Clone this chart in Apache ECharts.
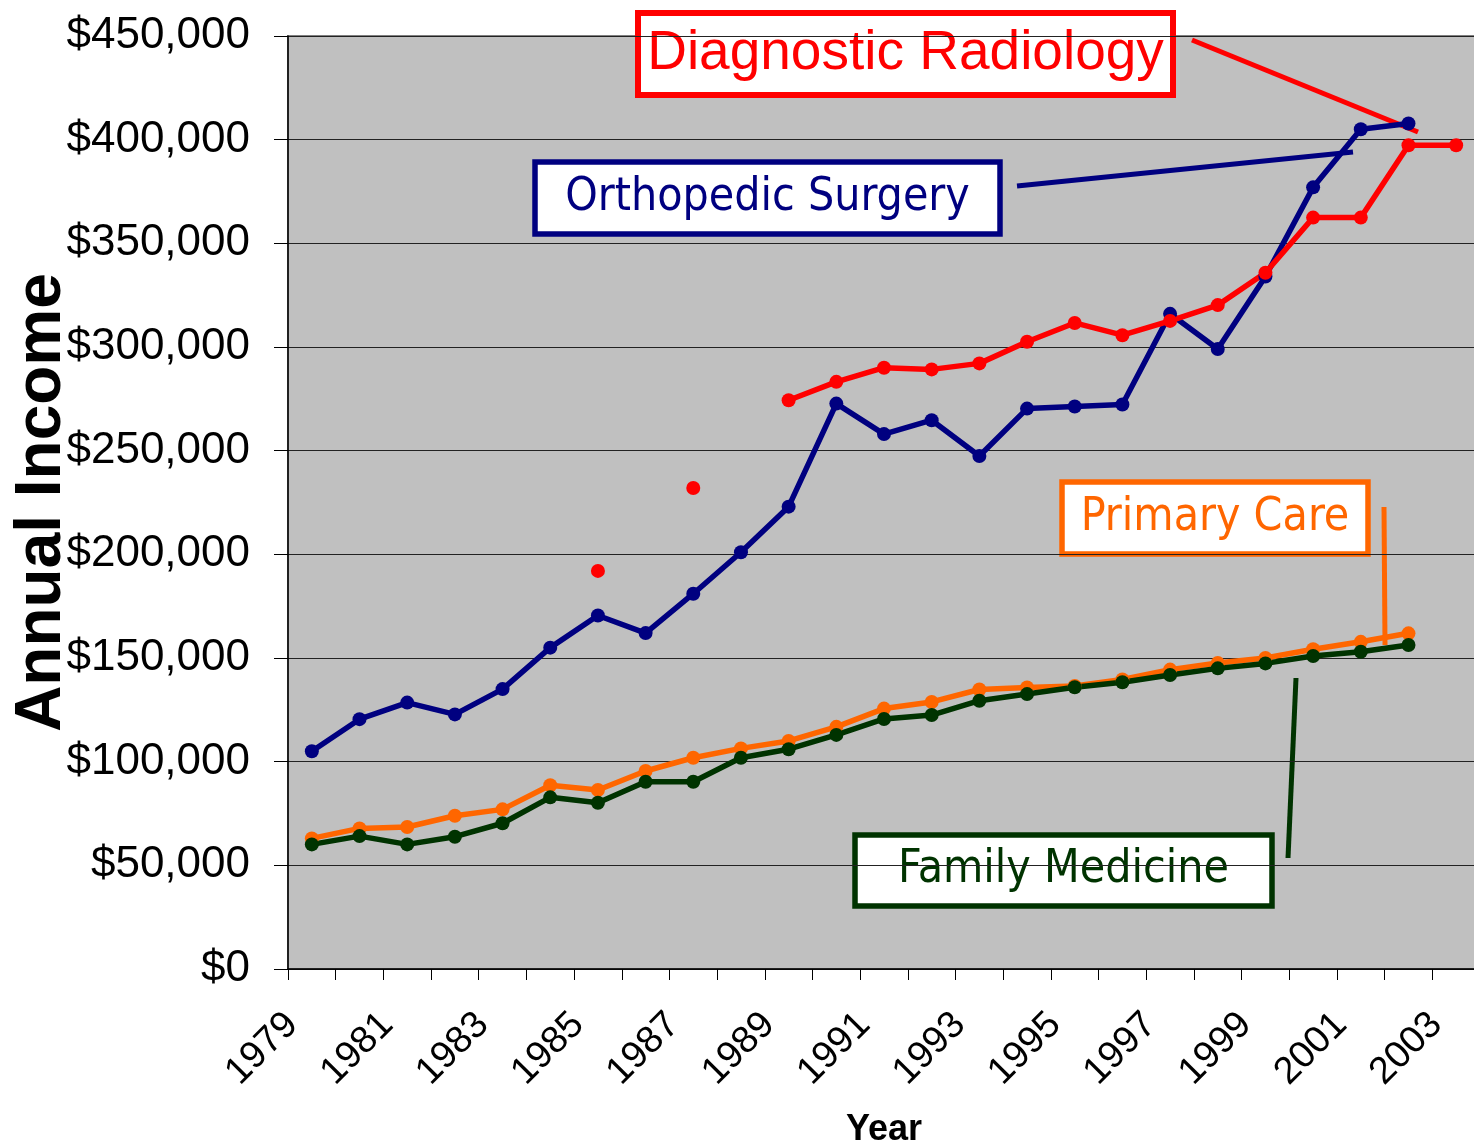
<!DOCTYPE html>
<html>
<head>
<meta charset="utf-8">
<script src="https://cdn.jsdelivr.net/npm/echarts@6/dist/echarts.min.js"></script>
<style>
  html, body { margin: 0; padding: 0; background: #fff; }
  #chart { width: 1474px; height: 1144px; }
</style>
</head>
<body>
<div id="chart"></div>
<script>
// years on the x axis
const years = ['1979', '1980', '1981', '1982', '1983', '1984', '1985', '1986', '1987', '1988',
    '1989', '1990', '1991', '1992', '1993', '1994', '1995', '1996', '1997', '1998',
    '1999', '2000', '2001', '2002', '2003'];

// annual income per specialty
const primaryCare = [63000, 67800, 68500, 73900, 77000, 88600, 86300, 95500, 101900, 106400,
    110000, 116800, 125600, 128800, 134800, 135800, 136500, 139600, 144400, 147600,
    150000, 154200, 157800, 161900, null];
const familyMedicine = [60100, 64100, 60100, 63800, 70300, 82800, 80200, 90300, 90300, 101900,
    106000, 112900, 120600, 122500, 129400, 132600, 135900, 138300, 141800, 145000,
    147400, 151000, 153000, 156300, null];
const orthopedicSurgery = [105000, 120500, 128500, 122800, 135000, 155000, 170500, 162000, 181000, 201000,
    223000, 272700, 258000, 264700, 247400, 270300, 271300, 272300, 316000, 299000,
    334000, 377000, 405000, 407800, null];
const diagnosticRadiology = [null, null, null, null, null, null, 192000, null, 232000, null,
    274300, 283200, 290000, 289200, 292100, 302500, 311600, 305700, 312600, 320200,
    335800, 362400, 362400, 397300, 397300];

const yTicks = { min: 0, max: 450000, step: 50000 };

const ARIAL = '"Liberation Sans", Arial, sans-serif';
const TAHOMA = '"DejaVu Sans Condensed", "DejaVu Sans", sans-serif';

const chart = echarts.init(document.getElementById('chart'));

function lineSeries(name, data, color) {
    return {
        name: name,
        type: 'line',
        data: data,
        connectNulls: false,
        showAllSymbol: true,
        symbol: 'circle',
        symbolSize: 14,
        lineStyle: { width: 5.5, color: color },
        itemStyle: { color: color },
        emphasis: { disabled: true },
        animation: false
    };
}

// callout box: rect with thick border + centered text
function callout(x, y, w, h, lw, color, text, font) {
    return {
        type: 'group',
        children: [
            { type: 'rect', shape: { x: x, y: y, width: w, height: h },
              style: { fill: '#fff', stroke: color, lineWidth: lw } },
            { type: 'text', x: x + w / 2, y: y + h / 2,
              style: { text: text, fill: color, font: font, align: 'center', verticalAlign: 'middle' } }
        ]
    };
}

function leader(x1, y1, x2, y2, color) {
    return { type: 'line', shape: { x1: x1, y1: y1, x2: x2, y2: y2 },
             style: { stroke: color, lineWidth: 5 } };
}

chart.setOption({
    animation: false,
    grid: {
        left: 288, right: -6, top: 36, bottom: 175,
        containLabel: false,
        outerBoundsMode: 'none',
        show: true, backgroundColor: '#c0c0c0', borderColor: '#808080', borderWidth: 2
    },
    xAxis: {
        type: 'category',
        data: years,
        boundaryGap: true,
        name: 'Year',
        nameLocation: 'middle',
        nameGap: 143,
        nameMoveOverlap: false,
        nameTextStyle: { fontFamily: ARIAL, fontSize: 36, fontWeight: 'bold', color: '#000' },
        axisLine: { lineStyle: { color: '#000', width: 1.5 } },
        axisTick: { show: true, interval: 0, length: 11, lineStyle: { color: '#000' } },
        axisLabel: {
            interval: 1, rotate: 45, margin: 30, padding: [0, 28, 0, 0],
            fontFamily: ARIAL, fontSize: 38, color: '#000'
        },
        splitLine: { show: false }
    },
    yAxis: {
        type: 'value',
        min: yTicks.min, max: yTicks.max, interval: yTicks.step,
        name: 'Annual Income',
        nameLocation: 'middle',
        nameRotate: 90,
        nameGap: 214,
        nameMoveOverlap: false,
        nameTextStyle: { fontFamily: ARIAL, fontSize: 64, fontWeight: 'bold', color: '#000' },
        axisLine: { show: true, lineStyle: { color: '#000', width: 1.5 } },
        axisTick: { show: true, length: 14, lineStyle: { color: '#000' } },
        axisLabel: {
            margin: 38, fontFamily: ARIAL, fontSize: 44, color: '#000',
            formatter: v => '$' + v.toLocaleString('en-US')
        },
        splitLine: { show: true, lineStyle: { color: '#222', width: 1.2 } }
    },
    series: [
        lineSeries('Primary Care', primaryCare, '#ff6600'),
        lineSeries('Family Medicine', familyMedicine, '#003300'),
        lineSeries('Orthopedic Surgery', orthopedicSurgery, '#000080'),
        lineSeries('Diagnostic Radiology', diagnosticRadiology, '#ff0000')
    ],
    graphic: [
        leader(1192, 40, 1418, 132, '#ff0000'),
        leader(1017, 186, 1353, 152, '#000080'),
        leader(1384, 507, 1385, 645, '#ff6600'),
        leader(1296, 678, 1288, 858, '#003300'),
        callout(638, 13, 535, 82, 6, '#ff0000', 'Diagnostic Radiology', '55px ' + ARIAL),
        callout(535, 162, 465, 72, 5.5, '#000080', 'Orthopedic Surgery', '46px ' + TAHOMA),
        callout(1062, 482, 306, 72, 5.5, '#ff6600', 'Primary Care', '46px ' + TAHOMA),
        callout(855, 835, 417, 71, 5.5, '#003300', 'Family Medicine', '46px ' + TAHOMA)
    ]
});
</script>
</body>
</html>
